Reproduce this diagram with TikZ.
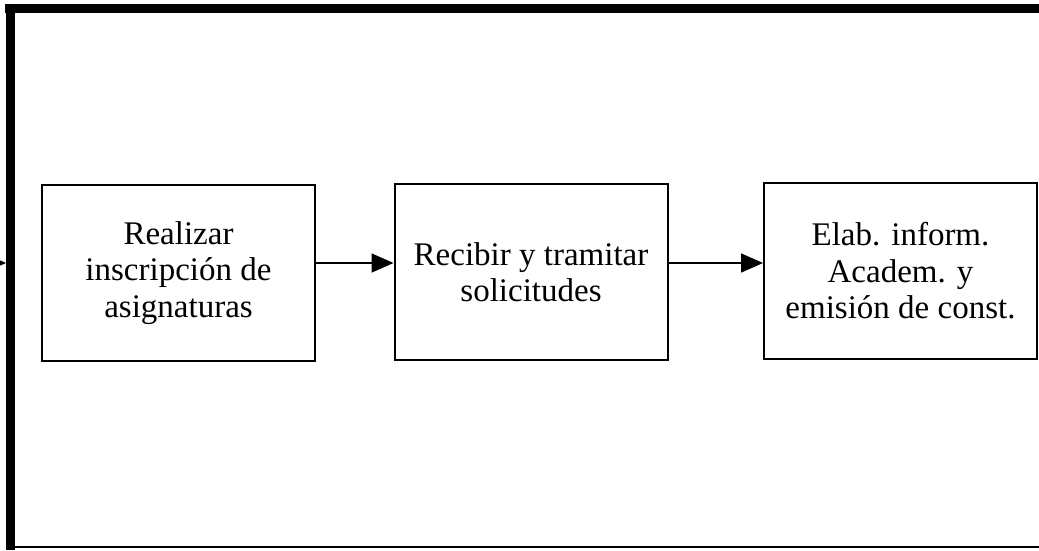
\documentclass[tikz,border=0pt]{standalone}
\usepackage{fontspec}
\setmainfont{Liberation Serif}
\usetikzlibrary{arrows.meta}
\begin{document}
\begin{tikzpicture}[x=1pt,y=1pt,
  procbox/.style={draw=black, line width=2pt, minimum width=273pt, minimum height=176pt,
    align=center, inner sep=0pt, font=\fontsize{33}{36.5}\selectfont},
  flow/.style={line width=1.8pt, -{Triangle[length=22pt,width=19pt]}}]
  \useasboundingbox (0,0) rectangle (1039,550);
  % frame: heavy top and left rules, thin bottom rule
  \fill (5,537) rectangle (1039,546);
  \fill (6,0) rectangle (15,546);
  \draw[line width=2pt] (15,3) -- (1039,3);
  % process boxes
  \node[procbox] (b1) at (178.5,277) {Realizar\\inscripción de\\asignaturas};
  \node[procbox] (b2) at (531,278) {Recibir y tramitar\\solicitudes};
  \node[procbox] (b3) at (900.5,279) {Elab. inform.\\Academ. y\\emisión de const.};
  % connectors
  \coordinate (lvl) at (0,287);
  \coordinate (entry) at (-30,287);
  \coordinate (bar) at (6,287);
  \draw[flow] (entry) -- (bar);
  \draw[flow] (b1.east |- lvl) -- (b2.west |- lvl);
  \draw[flow] (b2.east |- lvl) -- (b3.west |- lvl);
\end{tikzpicture}
\end{document}
